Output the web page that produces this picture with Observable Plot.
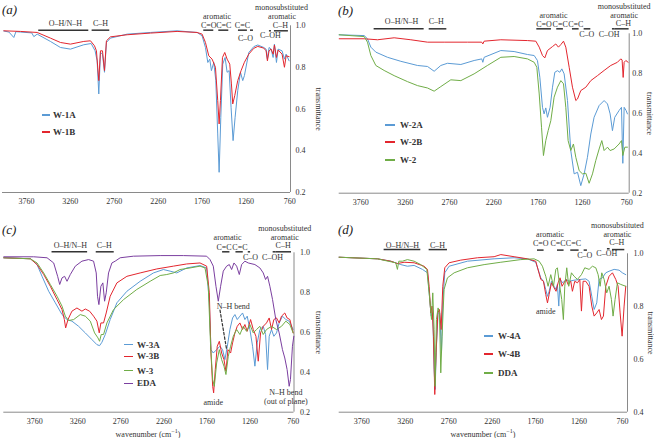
<!DOCTYPE html>
<html><head><meta charset="utf-8">
<script src="https://cdn.jsdelivr.net/npm/d3@7"></script>
<script src="https://cdn.jsdelivr.net/npm/@observablehq/plot@0.6"></script>
<style>
html,body{margin:0;padding:0;background:#fff;overflow:hidden;}
#wrap{position:relative;width:654px;height:438px;font-family:"Liberation Serif","DejaVu Serif",serif;color:#333;}
.pn{position:absolute;}
.pn svg text{font-family:"Liberation Serif","DejaVu Serif",serif;}
.plab{position:absolute;font-style:italic;font-size:13px;line-height:15px;color:#222;}
.legline{position:absolute;height:1.5px;}
.legtxt{position:absolute;font-weight:bold;font-size:9px;line-height:12px;color:#333;white-space:nowrap;}
.xlab{position:absolute;font-size:8px;line-height:10px;color:#333;white-space:nowrap;transform:translateX(-50%);}
.xlab sup{font-size:6px;}
</style></head>
<body><div id="wrap"></div>
<script>
// ---------- data (wavenumber cm^-1, transmittance) ----------
const xTicks = [3760, 3260, 2760, 2260, 1760, 1260, 760];
const yTicksFull = [0.2, 0.4, 0.6, 0.8, 1.0];
const yTicksD = [0.4, 0.6, 0.8, 1.0];

const w1A = [[4018,0.975],[3960,0.970],[3904,0.944],[3880,0.972],[3828,0.970],[3700,0.966],[3676,0.948],[3638,0.960],[3487,0.925],[3373,0.896],[3259,0.888],[3107,0.909],[3023,0.915],[2978,0.880],[2955,0.832],[2936,0.673],[2917,0.872],[2894,0.864],[2871,0.777],[2849,0.920],[2803,0.941],[2613,0.960],[2347,0.968],[2044,0.976],[1816,0.968],[1759,0.952],[1721,0.896],[1694,0.824],[1672,0.840],[1653,0.785],[1626,0.824],[1603,0.737],[1581,0.481],[1565,0.297],[1546,0.561],[1524,0.816],[1497,0.848],[1474,0.777],[1451,0.785],[1429,0.609],[1406,0.449],[1383,0.561],[1353,0.689],[1322,0.777],[1296,0.737],[1277,0.761],[1227,0.872],[1170,0.900],[1125,0.908],[1057,0.896],[1030,0.888],[1015,0.840],[996,0.896],[973,0.888],[950,0.848],[935,0.912],[912,0.824],[893,0.888],[848,0.880],[821,0.840],[802,0.864],[768,0.832]];
const w1B = [[4018,0.976],[3828,0.973],[3638,0.968],[3487,0.941],[3373,0.920],[3259,0.912],[3107,0.925],[3031,0.928],[2985,0.904],[2963,0.880],[2936,0.737],[2917,0.880],[2894,0.880],[2871,0.785],[2849,0.928],[2803,0.947],[2613,0.957],[2347,0.965],[2044,0.973],[1816,0.968],[1759,0.960],[1721,0.920],[1683,0.856],[1645,0.840],[1607,0.801],[1581,0.641],[1565,0.529],[1550,0.641],[1527,0.848],[1501,0.872],[1474,0.840],[1444,0.816],[1425,0.721],[1410,0.625],[1387,0.665],[1353,0.737],[1315,0.785],[1277,0.825],[1227,0.864],[1170,0.892],[1125,0.901],[1057,0.893],[1030,0.880],[1015,0.832],[996,0.880],[973,0.888],[950,0.864],[935,0.908],[912,0.848],[893,0.884],[848,0.864],[821,0.801],[802,0.856],[768,0.852]];

const w2A = [[4004,0.995],[3722,0.991],[3685,0.975],[3647,0.933],[3591,0.908],[3459,0.882],[3309,0.862],[3121,0.841],[3008,0.836],[2933,0.812],[2858,0.841],[2783,0.852],[2632,0.846],[2482,0.866],[2396,0.874],[2384,0.857],[2369,0.882],[2181,0.916],[2031,0.911],[1880,0.896],[1805,0.891],[1768,0.866],[1741,0.782],[1711,0.631],[1693,0.598],[1674,0.628],[1655,0.581],[1625,0.631],[1598,0.732],[1572,0.807],[1542,0.815],[1516,0.807],[1493,0.824],[1467,0.799],[1429,0.665],[1392,0.414],[1354,0.297],[1316,0.305],[1279,0.238],[1241,0.297],[1204,0.380],[1166,0.497],[1129,0.581],[1072,0.640],[1016,0.665],[978,0.648],[948,0.598],[922,0.514],[896,0.581],[847,0.615],[820,0.631],[805,0.350],[790,0.631],[768,0.615],[753,0.598]];
const w2B = [[4004,0.975],[3722,0.975],[3572,0.970],[3384,0.980],[3196,0.970],[3008,0.958],[2820,0.958],[2557,0.958],[2396,0.958],[2384,0.949],[2369,0.963],[2181,0.970],[1880,0.966],[1786,0.963],[1748,0.933],[1711,0.891],[1685,0.879],[1655,0.916],[1598,0.936],[1561,0.949],[1531,0.933],[1504,0.946],[1474,0.963],[1448,0.933],[1410,0.832],[1373,0.732],[1335,0.665],[1316,0.673],[1279,0.715],[1222,0.732],[1166,0.765],[1091,0.790],[1016,0.816],[941,0.841],[866,0.857],[828,0.874],[813,0.869],[801,0.781],[790,0.857],[771,0.866],[745,0.857]];
const w2 = [[4004,0.995],[3722,0.986],[3685,0.958],[3647,0.891],[3591,0.841],[3497,0.816],[3384,0.790],[3234,0.760],[3121,0.740],[3008,0.728],[2933,0.712],[2858,0.735],[2745,0.769],[2632,0.765],[2482,0.799],[2332,0.841],[2181,0.882],[2031,0.886],[1880,0.874],[1805,0.857],[1775,0.832],[1748,0.698],[1722,0.531],[1700,0.389],[1674,0.464],[1647,0.514],[1617,0.564],[1580,0.682],[1542,0.732],[1504,0.765],[1474,0.749],[1448,0.631],[1422,0.464],[1392,0.414],[1362,0.447],[1335,0.380],[1297,0.313],[1260,0.297],[1222,0.300],[1185,0.250],[1147,0.297],[1110,0.364],[1072,0.422],[1042,0.464],[1016,0.414],[978,0.431],[948,0.414],[903,0.422],[847,0.447],[820,0.464],[805,0.389],[782,0.431],[753,0.431]];

const w3A = [[4119,0.975],[3810,0.970],[3733,0.941],[3675,0.882],[3598,0.807],[3521,0.749],[3443,0.690],[3385,0.665],[3328,0.657],[3250,0.631],[3173,0.598],[3095,0.564],[3038,0.539],[3007,0.534],[2980,0.551],[2941,0.590],[2884,0.665],[2806,0.749],[2690,0.807],[2536,0.857],[2382,0.899],[2266,0.916],[2189,0.908],[2111,0.899],[1996,0.924],[1841,0.936],[1764,0.924],[1733,0.749],[1714,0.514],[1687,0.497],[1648,0.514],[1610,0.531],[1579,0.514],[1552,0.464],[1524,0.531],[1494,0.615],[1463,0.673],[1436,0.690],[1409,0.665],[1378,0.682],[1347,0.698],[1320,0.665],[1293,0.682],[1262,0.615],[1231,0.531],[1204,0.431],[1177,0.548],[1146,0.615],[1107,0.631],[1080,0.590],[1057,0.414],[1038,0.581],[1011,0.615],[984,0.581],[953,0.598],[922,0.648],[884,0.682],[845,0.665],[806,0.657],[760,0.615]];
const w3B = [[4119,0.975],[3810,0.970],[3733,0.941],[3656,0.891],[3579,0.832],[3501,0.765],[3443,0.715],[3416,0.665],[3401,0.623],[3374,0.665],[3328,0.707],[3270,0.723],[3212,0.707],[3173,0.718],[3123,0.707],[3077,0.682],[3038,0.657],[3011,0.598],[2992,0.648],[2961,0.648],[2930,0.698],[2884,0.782],[2806,0.849],[2690,0.882],[2536,0.899],[2343,0.919],[2150,0.933],[1996,0.944],[1841,0.949],[1764,0.933],[1733,0.799],[1714,0.497],[1694,0.330],[1683,0.297],[1664,0.414],[1641,0.531],[1617,0.556],[1590,0.497],[1563,0.464],[1540,0.406],[1517,0.514],[1486,0.497],[1463,0.548],[1436,0.598],[1409,0.631],[1378,0.648],[1347,0.615],[1320,0.640],[1293,0.606],[1254,0.665],[1223,0.615],[1192,0.581],[1165,0.456],[1138,0.598],[1107,0.631],[1069,0.648],[1038,0.673],[1011,0.615],[984,0.665],[953,0.673],[922,0.648],[895,0.682],[857,0.698],[830,0.673],[798,0.665],[760,0.598]];
const w3 = [[4119,0.975],[3810,0.970],[3733,0.949],[3656,0.899],[3579,0.841],[3501,0.782],[3443,0.732],[3405,0.682],[3366,0.660],[3308,0.665],[3231,0.690],[3173,0.682],[3115,0.657],[3065,0.598],[3026,0.573],[3007,0.556],[2988,0.590],[2961,0.590],[2922,0.648],[2845,0.715],[2729,0.765],[2575,0.816],[2420,0.857],[2304,0.886],[2227,0.891],[2150,0.899],[2073,0.916],[1957,0.924],[1841,0.933],[1783,0.924],[1745,0.832],[1718,0.531],[1694,0.364],[1675,0.330],[1648,0.447],[1617,0.514],[1590,0.464],[1563,0.431],[1540,0.389],[1513,0.481],[1486,0.531],[1455,0.581],[1416,0.615],[1378,0.590],[1339,0.631],[1301,0.606],[1262,0.640],[1223,0.598],[1185,0.615],[1146,0.631],[1107,0.590],[1069,0.615],[1011,0.631],[953,0.615],[895,0.631],[845,0.657],[798,0.640],[760,0.598]];
const eda = [[4119,0.980],[3772,0.980],[3617,0.975],[3540,0.949],[3494,0.882],[3470,0.841],[3443,0.874],[3413,0.882],[3385,0.857],[3347,0.891],[3289,0.933],[3212,0.958],[3135,0.966],[3077,0.958],[3046,0.899],[3031,0.782],[3015,0.740],[2992,0.832],[2969,0.849],[2949,0.757],[2930,0.799],[2903,0.899],[2864,0.949],[2826,0.958],[2768,0.975],[2613,0.983],[2304,0.986],[2034,0.986],[1764,0.983],[1725,0.966],[1687,0.933],[1656,0.832],[1629,0.757],[1602,0.832],[1571,0.908],[1532,0.933],[1501,0.941],[1474,0.916],[1447,0.949],[1416,0.933],[1385,0.891],[1358,0.941],[1320,0.958],[1281,0.949],[1204,0.941],[1146,0.924],[1107,0.899],[1080,0.866],[1057,0.882],[1030,0.832],[999,0.765],[961,0.665],[922,0.598],[884,0.514],[857,0.472],[830,0.414],[806,0.330],[791,0.364],[768,0.531],[752,0.581]];

const w4A = [[4021,0.987],[3580,0.981],[3426,0.972],[3311,0.959],[3235,0.953],[3158,0.956],[3062,0.941],[3004,0.928],[2981,0.839],[2962,0.764],[2943,0.776],[2928,0.562],[2916,0.486],[2901,0.650],[2882,0.776],[2863,0.776],[2843,0.625],[2828,0.814],[2805,0.928],[2755,0.953],[2544,0.972],[2237,0.981],[2007,0.985],[1854,0.981],[1758,0.968],[1700,0.909],[1669,0.896],[1643,0.865],[1623,0.839],[1604,0.858],[1577,0.896],[1547,0.877],[1524,0.865],[1509,0.884],[1493,0.802],[1478,0.903],[1447,0.890],[1409,0.903],[1374,0.896],[1317,0.900],[1240,0.903],[1182,0.905],[1144,0.896],[1113,0.839],[1086,0.789],[1056,0.814],[1029,0.903],[991,0.909],[952,0.928],[914,0.934],[856,0.941],[799,0.938],[761,0.928],[722,0.921]];
const w4B = [[4021,0.987],[3580,0.981],[3426,0.972],[3350,0.963],[3273,0.968],[3158,0.966],[3043,0.953],[3004,0.941],[2985,0.877],[2966,0.776],[2951,0.802],[2935,0.688],[2920,0.467],[2905,0.625],[2885,0.776],[2866,0.789],[2847,0.713],[2828,0.877],[2805,0.947],[2755,0.966],[2621,0.976],[2429,0.985],[2237,0.989],[2160,0.997],[2007,0.989],[1854,0.981],[1758,0.972],[1700,0.903],[1669,0.896],[1643,0.846],[1623,0.814],[1604,0.846],[1577,0.890],[1547,0.871],[1524,0.858],[1501,0.890],[1478,0.909],[1455,0.877],[1432,0.890],[1409,0.903],[1386,0.884],[1355,0.896],[1336,0.858],[1309,0.896],[1278,0.890],[1251,0.903],[1232,0.783],[1213,0.896],[1182,0.896],[1144,0.877],[1113,0.802],[1086,0.764],[1056,0.776],[1029,0.789],[1002,0.751],[979,0.764],[952,0.877],[914,0.915],[875,0.928],[837,0.903],[810,0.877],[787,0.776],[764,0.688],[741,0.802],[722,0.877]];
const dda = [[4021,0.987],[3580,0.981],[3457,0.972],[3369,0.966],[3350,0.941],[3334,0.972],[3292,0.972],[3235,0.978],[3158,0.972],[3081,0.959],[3012,0.941],[2981,0.839],[2958,0.751],[2943,0.852],[2928,0.713],[2916,0.498],[2901,0.751],[2882,0.795],[2866,0.776],[2851,0.549],[2836,0.688],[2813,0.865],[2774,0.909],[2697,0.928],[2544,0.947],[2352,0.959],[2160,0.968],[1930,0.978],[1777,0.981],[1719,0.972],[1681,0.953],[1643,0.915],[1616,0.877],[1585,0.921],[1554,0.877],[1527,0.941],[1509,0.947],[1482,0.877],[1459,0.827],[1440,0.751],[1424,0.877],[1401,0.947],[1378,0.877],[1347,0.928],[1317,0.915],[1278,0.903],[1232,0.921],[1194,0.947],[1144,0.941],[1106,0.953],[1067,0.947],[1040,0.921],[1017,0.877],[998,0.928],[971,0.903],[941,0.852],[914,0.877],[887,0.827],[868,0.764],[845,0.827],[818,0.890],[779,0.884],[722,0.877]];

// annotation labels: [text, wavenumber, transmittance]
const notesA = [["O–H/N–H",3316,1.011],["C–H",2917,1.011],["aromatic",1590,1.043],["C=O",1683,1.0],["C=C",1512,1.0],["C=C",1300,1.0],["C–O",1265,0.94],["C–OH",981,0.955],["monosubstituted",855,1.088],["aromatic",848,1.043],["C–H",867,1.003]];
const barsA = [[3620,3050,0.979],[3012,2811,0.979],[1740,1626,0.979],[1569,1455,0.979],[1345,1243,0.979],[1208,1174,0.979],[992,969,0.976],[935,776,0.976]];
const notesB = [["O–H/N–H",3301,1.063],["C–H",2910,1.063],["aromatic",1587,1.092],["C=O",1693,1.047],["C=C",1512,1.047],["C=C",1335,1.047],["C–O",1211,0.996],["C–OH",960,0.999],["monosubstituted",790,1.137],["aromatic",790,1.092],["C–H",798,1.053]];
const barsB = [[3610,3046,1.025],[2989,2790,1.025],[1775,1610,1.025],[1550,1475,1.025],[1373,1298,1.025],[1241,1166,1.025],[922,896,1.025],[896,734,1.025]];
const notesC = [["O–H/N–H",3347,1.036],["C–H",2953,1.036],["aromatic",1521,1.075],["C=C",1563,1.025],["C=C",1378,1.025],["C–O",1254,0.975],["C–OH",999,0.975],["monosubstituted",857,1.120],["aromatic",857,1.075],["C–H",876,1.036],["N–H bend",1455,0.729],["amide",1687,0.250],["N–H bend",845,0.300],["(out of plane)",845,0.255]];
const barsC = [[3559,3146,1.005],[3046,2837,1.005],[1579,1494,1.005],[1424,1339,1.005],[1281,1254,1.005],[992,961,1.005],[961,779,1.005]];
const dashC = [[1609,0.712],[1532,0.514]];
const notesD = [["O–H/N–H",3292,1.031],["C–H",2889,1.031],["aromatic",1593,1.073],["C=O",1700,1.039],["C=C",1501,1.039],["C=C",1324,1.039],["C–O",1194,0.994],["C–OH",941,1.001],["monosubstituted",818,1.107],["aromatic",818,1.073],["C–H",826,1.042],["amide",1643,0.783]];
const barsD = [[3503,3081,1.016],[2985,2774,1.016],[1738,1662,1.014],[1508,1432,1.014],[1355,1259,1.014],[1201,1163,1.014],[933,902,1.019],[875,733,1.016]];

const BLUE = "#5b9bd5", RED = "#e3262e", GREEN = "#70ad47", PURPLE = "#7b3fa0";
const FONT = "'Liberation Serif', 'DejaVu Serif', serif";

const panels = [
  {tag:"(a)", left:0, top:0, xd:[4033,752], xr:[2,290], yd:[0.2,1.0], yr:[192,25.3], yTicks:yTicksFull, ypad:5, tdx:28,
   series:[{name:"W-1A",data:w1A,color:BLUE},{name:"W-1B",data:w1B,color:RED}], notes:notesA, bars:barsA,
   leg:{x1:42,x2:50,tx:53,ys:[115,132]}, lab:[2,2]},
  {tag:"(b)", left:327, top:0, xd:[4004,733], xr:[11.7,301.7], yd:[0.2,1.0], yr:[192.7,33.3], yTicks:yTicksFull, ypad:3, tdx:20,
   series:[{name:"W-2A",data:w2A,color:BLUE},{name:"W-2B",data:w2B,color:RED},{name:"W-2",data:w2,color:GREEN}], notes:notesB, bars:barsB,
   leg:{x1:385,x2:395,tx:400,ys:[125,142,160]}, lab:[338,3]},
  {tag:"(c)", left:0, top:219, xd:[4119,750], xr:[3.3,293.5], yd:[0.2,1.0], yr:[192.7,33.3], yTicks:yTicksFull, ypad:6, tdx:25,
   series:[{name:"W-3A",data:w3A,color:BLUE},{name:"W-3B",data:w3B,color:RED},{name:"W-3",data:w3,color:GREEN},{name:"EDA",data:eda,color:PURPLE}], notes:notesC, bars:barsC, dash:dashC,
   leg:{x1:124,x2:133,tx:137,ys:[344.7,356.3,370.7,383.3]}, lab:[2,222], xlabel:148},
  {tag:"(d)", left:327, top:219, xd:[4020,702], xr:[11.7,300], yd:[0.4,1.0], yr:[192.7,34.3], yTicks:yTicksD, ypad:6, tdx:23,
   series:[{name:"W-4A",data:w4A,color:BLUE},{name:"W-4B",data:w4B,color:RED},{name:"DDA",data:dda,color:GREEN}], notes:notesD, bars:barsD,
   leg:{x1:484,x2:493,tx:498,ys:[336,354,373]}, lab:[338,222], xlabel:483}
];

const wrap = document.getElementById("wrap");
const W = 327, H = 219;

for (const p of panels) {
  const marks = [
    Plot.ruleY([p.yd[0]], {x1: p.xd[0], x2: p.xd[1], stroke: "#8a8a8a", strokeWidth: 1}),
    Plot.ruleX([p.xd[1]], {y1: p.yd[0], y2: 1.0, stroke: "#8a8a8a", strokeWidth: 1}),
    Plot.axisX({ticks: xTicks, tickSize: 0, tickPadding: 6, tickFormat: d => String(d), label: null, fill: "#333", fontFamily: FONT}),
    Plot.axisY({anchor: "right", ticks: p.yTicks, tickSize: 0, tickPadding: p.ypad, tickFormat: d => d.toFixed(1), label: null, fill: "#333", fontFamily: FONT}),
    ...p.series.map(s => Plot.line(s.data, {x: d => d[0], y: d => d[1], stroke: s.color, strokeWidth: 1})),
    Plot.ruleY(p.bars, {x1: d => d[0], x2: d => d[1], y: d => d[2], stroke: "#333", strokeWidth: 1.5}),
    Plot.text(p.notes, {x: d => d[1], y: d => d[2], text: d => d[0], fontSize: 8, fill: "#333", fontFamily: FONT}),
    Plot.text(["transmittance"], {x: p.xd[1], y: (p.yd[0] + 1.0) / 2, rotate: 90, dx: p.tdx, fontSize: 8, fill: "#333", fontFamily: FONT})
  ];
  if (p.dash) marks.push(Plot.line(p.dash, {x: d => d[0], y: d => d[1], stroke: "#333", strokeWidth: 1.2, strokeDasharray: "2.5,2"}));
  const chart = Plot.plot({
    width: W, height: H,
    marginLeft: p.xr[0], marginRight: W - p.xr[1], marginTop: p.yr[1], marginBottom: H - p.yr[0],
    x: {domain: p.xd, range: p.xr},
    y: {domain: p.yd, range: p.yr},
    style: {fontFamily: FONT, fontSize: "8px", background: "transparent", overflow: "visible"},
    marks
  });
  const box = document.createElement("div");
  box.className = "pn";
  box.style.left = p.left + "px"; box.style.top = p.top + "px";
  box.appendChild(chart);
  wrap.appendChild(box);

  const t = document.createElement("div");
  t.className = "plab"; t.textContent = p.tag;
  t.style.left = p.lab[0] + "px"; t.style.top = p.lab[1] + "px";
  wrap.appendChild(t);

  p.series.forEach((s, i) => {
    const y = p.leg.ys[i];
    const l = document.createElement("div");
    l.className = "legline";
    l.style.left = p.leg.x1 + "px"; l.style.width = (p.leg.x2 - p.leg.x1) + "px";
    l.style.top = (y - 0.75) + "px"; l.style.background = s.color;
    wrap.appendChild(l);
    const tx = document.createElement("div");
    tx.className = "legtxt"; tx.textContent = s.name;
    tx.style.left = p.leg.tx + "px"; tx.style.top = (y - 6) + "px";
    wrap.appendChild(tx);
  });

  if (p.xlabel) {
    const xl = document.createElement("div");
    xl.className = "xlab";
    xl.innerHTML = "wavenumber (cm<sup>−1</sup>)";
    xl.style.left = p.xlabel + "px"; xl.style.top = "426px";
    wrap.appendChild(xl);
  }
}
</script>
</body></html>
